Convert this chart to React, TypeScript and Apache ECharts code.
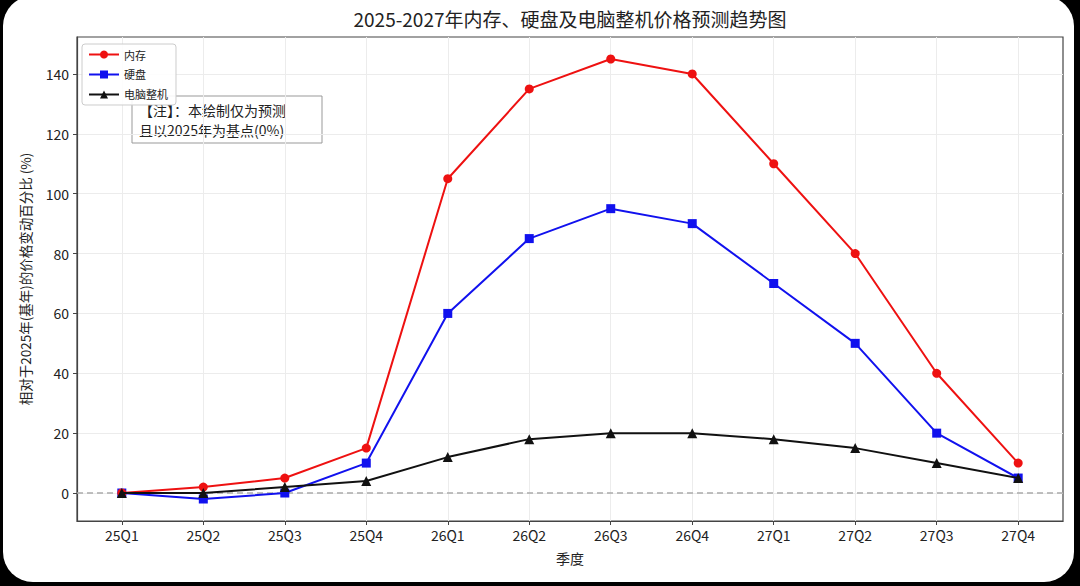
import * as echarts from 'echarts';
import React, { useEffect, useRef } from 'react';

const quarters = ['25Q1', '25Q2', '25Q3', '25Q4', '26Q1', '26Q2', '26Q3', '26Q4', '27Q1', '27Q2', '27Q3', '27Q4'];
const memory = [0, 2, 5, 15, 105, 135, 145, 140, 110, 80, 40, 10];
const disk = [0, -2, 0, 10, 60, 85, 95, 90, 70, 50, 20, 5];
const pc = [0, 0, 2, 4, 12, 18, 20, 20, 18, 15, 10, 5];
const yTicks = [0, 20, 40, 60, 80, 100, 120, 140];
const xTicks = quarters.map((_, i) => i);

const FONT = '"Noto Sans CJK SC", "DejaVu Sans", sans-serif';

const App: React.FC = () => {
  const chartRef = useRef<HTMLDivElement>(null);

  useEffect(() => {
    let chart: echarts.ECharts | undefined;
    if (chartRef.current) {
      chart = echarts.init(chartRef.current, undefined, { renderer: 'svg' });

      const toPoints = (vals: number[]) => vals.map((v, i) => [i, v]);

      const option: echarts.EChartsOption = {
        animation: false,
        backgroundColor: '#000',
        textStyle: { fontFamily: FONT },
        graphic: [
          {
            type: 'rect',
            z: -10,
            shape: { x: 3, y: -4, width: 1071, height: 586, r: 30 },
            style: { fill: '#fff' },
          },
          {
            type: 'text',
            x: 570,
            y: 9,
            style: {
              text: '2025-2027年内存、硬盘及电脑整机价格预测趋势图',
              fontSize: 19,
              fontFamily: FONT,
              fill: '#222',
              textAlign: 'center',
            },
          },
          {
            type: 'group',
            x: 132,
            y: 96,
            z: 1,
            children: [
              {
                type: 'rect',
                shape: { x: 0, y: 0, width: 190, height: 47 },
                style: { fill: '#fff', stroke: '#999', lineWidth: 1 },
              },
              {
                type: 'text',
                x: 7,
                y: 4,
                style: {
                  text: '【注】：本绘制仅为预测\n且以2025年为基点(0%)',
                  fontSize: 14,
                  lineHeight: 20,
                  fontFamily: FONT,
                  fill: '#222',
                },
              },
            ],
          },
        ],
        legend: {
          orient: 'vertical',
          left: 82,
          top: 44,
          z: 10,
          itemWidth: 30,
          itemHeight: 10,
          itemGap: 9,
          padding: [5, 8, 5, 6],
          backgroundColor: 'rgba(255,255,255,0.9)',
          borderColor: '#ccc',
          borderWidth: 1,
          borderRadius: 3,
          textStyle: { fontSize: 11, color: '#222', fontFamily: FONT },
          data: ['内存', '硬盘', '电脑整机'],
        },
        grid: {
          left: 77,
          right: 17,
          top: 37,
          bottom: 65,
          show: true,
          borderColor: '#444',
          borderWidth: 1.2,
          backgroundColor: 'transparent',
        },
        xAxis: {
          type: 'value',
          min: -0.55,
          max: 11.55,
          name: '季度',
          nameLocation: 'middle',
          nameGap: 30,
          nameTextStyle: { fontSize: 14, color: '#222', fontFamily: FONT },
          axisLine: { show: true, onZero: false, lineStyle: { color: '#444', width: 1.2 } },
          axisTick: { show: true, length: 4, customValues: xTicks, lineStyle: { color: '#444' } },
          axisLabel: {
            customValues: xTicks,
            formatter: (v: number) => quarters[Math.round(v)] ?? '',
            fontSize: 14,
            color: '#222',
            margin: 7,
            fontFamily: FONT,
          },
          splitLine: { show: true, lineStyle: { color: '#ececec', width: 1 } },
        },
        yAxis: {
          type: 'value',
          min: -9.35,
          max: 152.35,
          name: '相对于2025年(基年)的价格变动百分比 (%)',
          nameLocation: 'middle',
          nameGap: 45,
          nameTextStyle: { fontSize: 13.5, color: '#222', fontFamily: FONT },
          axisLine: { show: true, onZero: false, lineStyle: { color: '#444', width: 1.2 } },
          axisTick: { show: true, length: 4, customValues: yTicks, lineStyle: { color: '#444' } },
          axisLabel: {
            customValues: yTicks,
            fontSize: 14,
            color: '#222',
            margin: 8,
            fontFamily: FONT,
          },
          splitLine: { show: true, lineStyle: { color: '#ececec', width: 1 } },
        },
        series: [
          {
            name: '内存',
            type: 'line',
            data: toPoints(memory),
            symbol: 'circle',
            symbolSize: 9,
            color: '#ee1111',
            lineStyle: { width: 2 },
            z: 4,
            markLine: {
              silent: true,
              symbol: 'none',
              label: { show: false },
              lineStyle: { color: '#aaa', type: [6, 4], width: 1.5 },
              data: [{ yAxis: 0 }],
              z: 1,
            },
          },
          {
            name: '硬盘',
            type: 'line',
            data: toPoints(disk),
            symbol: 'rect',
            symbolSize: 9,
            color: '#1111ee',
            lineStyle: { width: 2 },
            z: 3,
          },
          {
            name: '电脑整机',
            type: 'line',
            data: toPoints(pc),
            symbol: 'triangle',
            symbolSize: 10,
            color: '#111',
            lineStyle: { width: 2 },
            z: 5,
          },
        ],
      };

      chart.setOption(option);
    }
    return () => {
      chart?.dispose();
    };
  }, []);

  return (
    <div style={{ position: 'fixed', left: 0, top: 0, width: 1080, height: 586 }}>
      <div ref={chartRef} style={{ width: 1080, height: 586 }} />
    </div>
  );
};

export default App;
